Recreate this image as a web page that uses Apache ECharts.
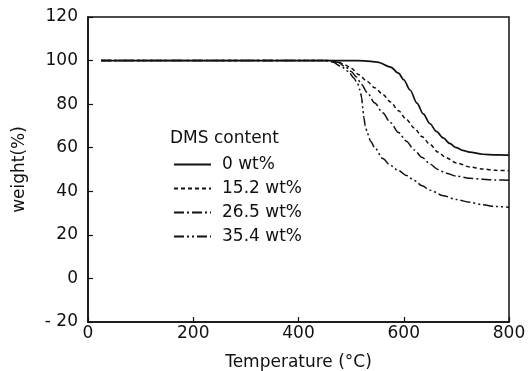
<!DOCTYPE html>
<html>
<head>
<meta charset="utf-8">
<script src="https://cdn.jsdelivr.net/npm/echarts@6/dist/echarts.min.js"></script>
<style>html,body{margin:0;padding:0;background:#fff;}#c{width:528px;height:371px;}</style>
</head>
<body>
<div id="c"></div>
<script>
// ---- data ----
var seriesNames = ['0 wt%', '15.2 wt%', '26.5 wt%', '35.4 wt%'];
var xTicks = [0, 200, 400, 600, 800];
var yTicks = [-20, 0, 20, 40, 60, 80, 100, 120];

var temp0 = [25, 100, 200, 300, 400, 450, 500, 525, 550, 575, 590, 600, 612, 625, 637, 650, 662, 675, 687, 700, 712, 725, 750, 775, 800];
var weight0 = [100, 100, 100, 100, 100, 100, 100, 99.9, 99.3, 97, 94.2, 91.2, 86.5, 80.5, 75.5, 71, 67.5, 64.5, 62, 60, 58.8, 58, 57, 56.7, 56.6];

var temp152 = [25, 100, 200, 300, 400, 460, 475, 490, 500, 515, 530, 545, 560, 575, 590, 605, 620, 635, 650, 665, 680, 700, 725, 750, 775, 800];
var weight152 = [100, 100, 100, 100, 100, 100, 99.3, 97.8, 96.5, 93.5, 90.5, 87.5, 84.5, 81, 77, 73, 69, 65, 61.5, 58, 55.5, 53, 51.2, 50.2, 49.6, 49.4];

var temp265 = [25, 100, 200, 300, 400, 460, 475, 490, 500, 510, 520, 530, 545, 560, 575, 590, 605, 620, 635, 650, 665, 680, 700, 725, 750, 775, 800];
var weight265 = [100, 100, 100, 100, 100, 100, 99.2, 97, 95, 92.5, 89, 85.5, 80.5, 76, 71.5, 67, 63, 59, 55.5, 52.5, 50, 48.3, 47, 46, 45.5, 45.2, 45.1];

var temp354 = [25, 100, 200, 300, 400, 450, 465, 480, 495, 505, 512, 517, 520, 522, 524, 527, 531, 537, 545, 560, 575, 590, 605, 620, 635, 650, 675, 700, 725, 750, 775, 800];
var weight354 = [100, 100, 100, 100, 100, 100, 99.3, 97.5, 95, 92, 89.5, 86.5, 83, 78.5, 74, 70, 66.5, 63, 60, 55, 51.8, 49.5, 47.3, 45, 42.5, 40.5, 38, 36.2, 35, 33.8, 33, 32.7];

function pairs(xs, ys) { return xs.map(function (x, i) { return [x, ys[i]]; }); }

var FONT = 'DejaVu Sans';
var FS = 17;
var chart = echarts.init(document.getElementById('c'));

function lineSeries(name, xs, ys, type, width) {
  return {
    name: name, type: 'line', data: pairs(xs, ys),
    showSymbol: false, symbol: 'none', smooth: 0.3, smoothMonotone: 'x',
    lineStyle: { color: '#111', width: width, type: type },
    itemStyle: { color: '#111' },
    emphasis: { disabled: true }, animation: false
  };
}

chart.setOption({
  animation: false,
  backgroundColor: '#fff',
  title: {
    text: 'DMS content', left: 170, top: 130, padding: 0,
    textStyle: { fontFamily: FONT, fontSize: FS, fontWeight: 'normal', color: '#111' }
  },
  legend: {
    orient: 'vertical', left: 173, top: 156, padding: 0,
    itemWidth: 37, itemHeight: 14, itemGap: 7,
    data: seriesNames,
    itemStyle: { opacity: 0, borderWidth: 0 },
    textStyle: { fontFamily: FONT, fontSize: FS, color: '#111', padding: [0, 0, 0, 6] },
    selectedMode: false
  },
  grid: {
    left: 88, right: 19, top: 17, bottom: 49,
    show: true, borderColor: '#111', borderWidth: 1.5,
    containLabel: false, outerBoundsMode: 'none'
  },
  xAxis: {
    type: 'value', min: xTicks[0], max: xTicks[xTicks.length - 1], interval: 200,
    name: 'Temperature (°C)', nameLocation: 'middle', nameGap: 32,
    nameTextStyle: { fontFamily: FONT, fontSize: FS, color: '#111' },
    axisLine: { show: true, onZero: false, lineStyle: { color: '#111', width: 1.5 } },
    axisTick: { show: true, inside: true, length: 5, lineStyle: { color: '#111', width: 1.2 } },
    axisLabel: { fontFamily: FONT, fontSize: FS, color: '#111', margin: 3 },
    splitLine: { show: false }
  },
  yAxis: {
    type: 'value', min: yTicks[0], max: yTicks[yTicks.length - 1], interval: 20,
    name: 'weight(%)', nameLocation: 'middle', nameGap: 60, nameRotate: 90,
    nameTextStyle: { fontFamily: FONT, fontSize: FS, color: '#111' },
    axisLine: { show: true, onZero: false, lineStyle: { color: '#111', width: 1.5 } },
    axisTick: { show: true, inside: true, length: 5, lineStyle: { color: '#111', width: 1.2 } },
    axisLabel: { fontFamily: FONT, fontSize: FS, color: '#111', margin: 10,
      formatter: function (v) { return v < 0 ? '- ' + Math.abs(v) : String(v); } },
    splitLine: { show: false }
  },
  series: [
    lineSeries(seriesNames[0], temp0, weight0, 'solid', 1.7),
    lineSeries(seriesNames[1], temp152, weight152, [4, 3], 1.5),
    lineSeries(seriesNames[2], temp265, weight265, [10, 3, 2, 3], 1.5),
    lineSeries(seriesNames[3], temp354, weight354, [10, 3, 2, 3, 2, 3], 1.5)
  ]
});
</script>
</body>
</html>
